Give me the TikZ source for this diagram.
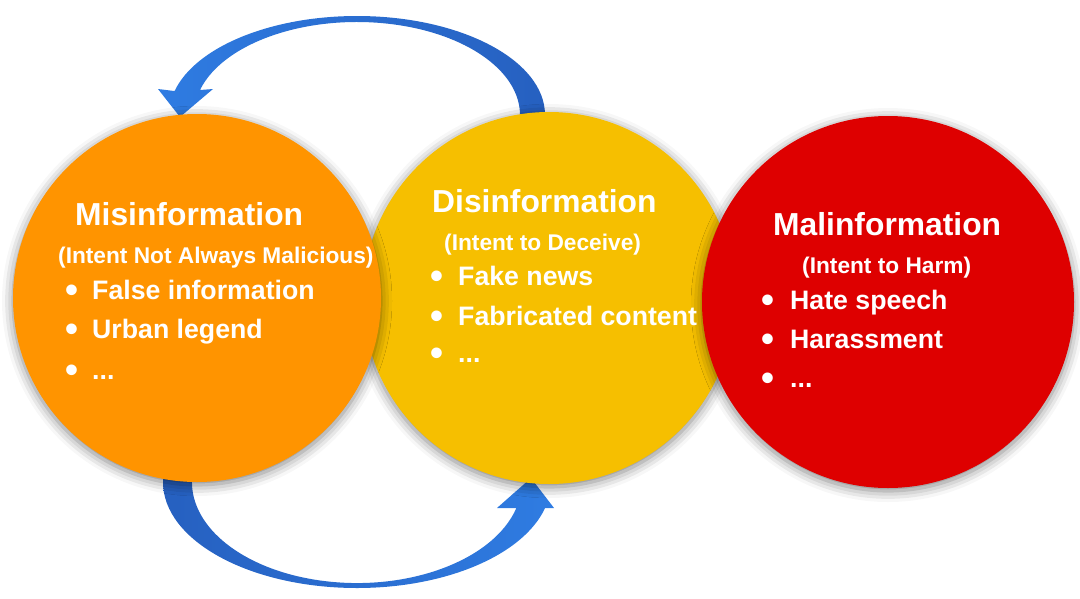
\documentclass[tikz,border=0pt]{standalone}
\usepackage{fontspec}
\setmainfont{Liberation Sans}
\usetikzlibrary{shadows.blur}
\definecolor{misorange}{RGB}{255,148,0}
\definecolor{disyellow}{RGB}{246,191,0}
\definecolor{malred}{RGB}{222,0,0}
\definecolor{bluedark}{RGB}{38,96,192}
\definecolor{bluelight}{RGB}{47,124,226}
\newcommand{\bul}[1]{\makebox[#1][l]{\raisebox{-3.5pt}{\fontsize{37}{30}\selectfont\textbullet}}}
\begin{document}
\begin{tikzpicture}[x=1pt,y=-1pt,
  blob/.style={circle, inner sep=0pt, minimum size=#1,
    blur shadow={shadow xshift=0pt, shadow yshift=-3pt, shadow blur radius=11pt, shadow opacity=50}},
  ttl/.style={anchor=base west, inner sep=0pt, text=white, font=\bfseries\fontsize{31.8}{36}\selectfont},
  sub/.style={anchor=base west, inner sep=0pt, text=white, font=\bfseries\fontsize{22.7}{26}\selectfont},
  itm/.style={anchor=base west, inner sep=0pt, text=white, font=\bfseries\fontsize{26.7}{30}\selectfont},
]
\useasboundingbox (0,0) rectangle (1080,598);

% arrows (behind the circles)
\shade[left color=bluelight, right color=bluedark]
  (545,128) -- (545,115) arc[start angle=0, end angle=-166, x radius=188, y radius=99]
  -- (158,89) -- (180,117) -- (213,89) -- (200,90)
  arc[start angle=-164.4, end angle=0, x radius=163, y radius=93] -- (520,128) -- cycle;
\shade[left color=bluedark, right color=bluelight]
  (192,468) -- (163,468) -- (163,482) arc[start angle=180, end angle=14.2, x radius=194, y radius=106]
  -- (554,508) -- (531,478) -- (497,508) -- (516.4,508)
  arc[start angle=14.9, end angle=180, x radius=165, y radius=101] -- cycle;

% circles
\node[blob=372pt, fill=disyellow] (dis) at (549,298) {};
\node[blob=368pt, fill=misorange] (mis) at (197,298) {};
\node[blob=372pt, fill=malred] (mal) at (888,302) {};

% Misinformation
\node[ttl] (misT) at (75,225) {Misinformation};
\node[sub] (misS) at (58,263) {(Intent Not Always Malicious)};
\node[itm] (misA) at (65,299) {\bul{27pt}False information};
\node[itm] (misB) at (65,338) {\bul{27pt}Urban legend};
\node[itm] (misC) at (65,379) {\bul{27pt}...};

% Disinformation
\node[ttl] (disT) at (432,212) {Disinformation};
\node[sub] (disS) at (444,250) {(Intent to Deceive)};
\node[itm] (disA) at (430,285) {\bul{28pt}Fake news};
\node[itm] (disB) at (430,325) {\bul{28pt}Fabricated content};
\node[itm] (disC) at (430,362) {\bul{28pt}...};

% Malinformation
\node[ttl] (malT) at (773,235) {Malinformation};
\node[sub] (malS) at (802,273) {(Intent to Harm)};
\node[itm] (malA) at (761,309) {\bul{29pt}Hate speech};
\node[itm] (malB) at (761,348) {\bul{29pt}Harassment};
\node[itm] (malC) at (761,387) {\bul{29pt}...};
\end{tikzpicture}
\end{document}
